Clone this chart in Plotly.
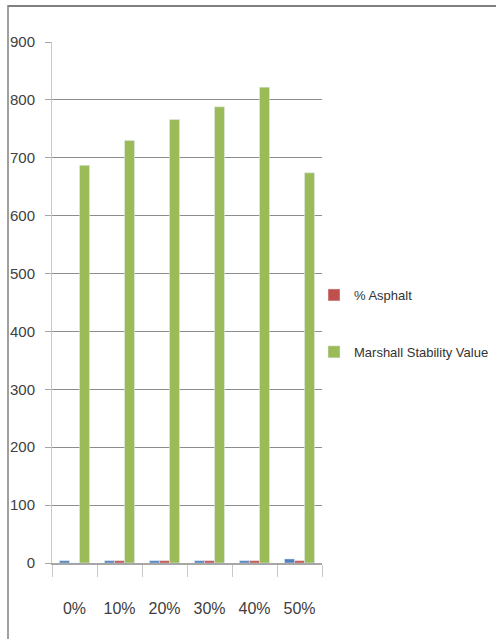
import plotly.graph_objects as go

categories = ["0%", "10%", "20%", "30%", "40%", "50%"]
base_values = [4, 4, 4, 4, 4, 7]
asphalt_values = [0, 4, 4, 4, 4, 4]
stability_values = [687, 730, 766, 788, 822, 674]
y_ticks = [0, 100, 200, 300, 400, 500, 600, 700, 800, 900]

W, H = 496, 639
L, R, T, B = 52, 174, 42, 76
pw, ph = W - L - R, H - T - B

def px_x(x):
    return (x - L) / pw

def px_y(y):
    return (H - B - y) / ph

FONT = "Liberation Sans, Arial, sans-serif"

fig = go.Figure()
fig.add_trace(go.Bar(x=categories, y=base_values, name="Series1",
                     marker_color="#4F81BD", showlegend=False))
fig.add_trace(go.Bar(x=categories, y=asphalt_values, name="% Asphalt",
                     marker_color="#C0504D", legendgroup="asphalt"))
fig.add_trace(go.Bar(x=categories, y=stability_values, name="Marshall Stability Value",
                     marker_color="#9BBB59", legendgroup="stability"))

fig.update_layout(
    width=W, height=H,
    margin=dict(l=L, r=R, t=T, b=B, pad=0, autoexpand=False),
    paper_bgcolor="white", plot_bgcolor="white",
    barmode="group", bargap=0.333, bargroupgap=0,
    font=dict(family=FONT, size=16, color="#404040"),
    legend=dict(x=px_x(314), y=px_y(280), xanchor="left", yanchor="top",
                font=dict(size=13, color="#333333"), tracegroupgap=37,
                bgcolor="rgba(0,0,0,0)", itemwidth=30),
    xaxis=dict(showline=True, linecolor="#a6a6a6", linewidth=2,
               ticks="outside", tickson="boundaries", ticklen=12,
               tickcolor="#c8c8c8", tickwidth=1, showgrid=False,
               tickangle=0, tickfont=dict(size=16), ticklabelstandoff=30),
    yaxis=dict(range=[0, 900], tickvals=y_ticks, showline=True,
               linecolor="#c8c8c8", linewidth=1, ticks="outside",
               ticklen=6, tickcolor="#a6a6a6", showgrid=True,
               gridcolor="#8c8c8c", gridwidth=1, zeroline=False,
               tickfont=dict(size=15), ticklabelstandoff=7),
    shapes=[
        dict(type="line", xref="paper", yref="paper",
             x0=px_x(8), x1=px_x(W), y0=px_y(6), y1=px_y(6),
             line=dict(color="#808080", width=2)),
        dict(type="line", xref="paper", yref="paper",
             x0=px_x(8), x1=px_x(8), y0=px_y(5), y1=px_y(H),
             line=dict(color="#808080", width=1.5)),
    ],
)

fig.write_html("out.html")
